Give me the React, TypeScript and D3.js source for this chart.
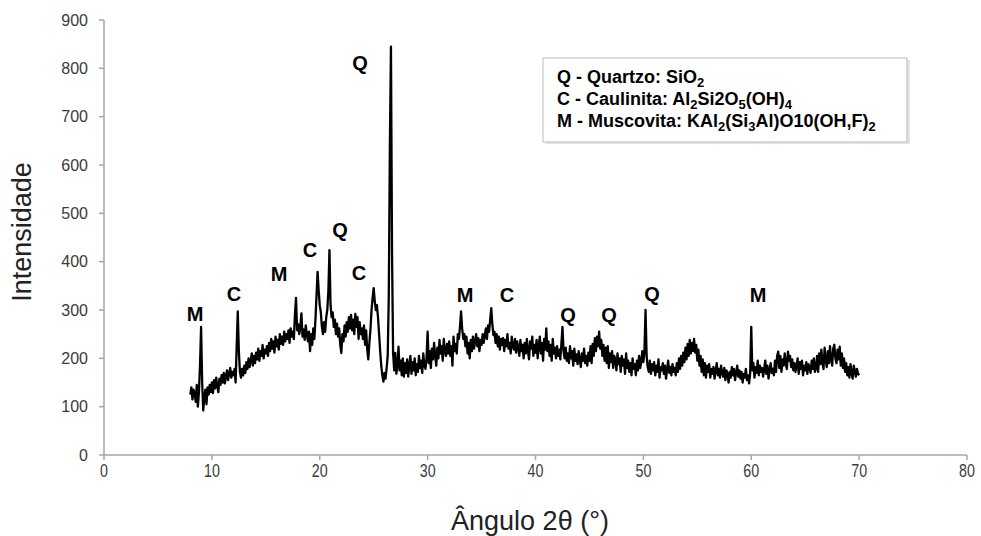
import React, { useEffect } from 'react';
import * as d3 from 'd3';

// diffractogram sampled every 0.1 degree from 8.0 to 70.0
const angleStart = 8;
const angleStep = 0.1;
const intensity = [
  125, 140, 115, 135, 128, 110, 145, 100, 130, 185, // 8
  265, 150, 92, 120, 135, 105, 140, 125, 145, 130, // 9
  150, 128, 155, 138, 160, 142, 130, 158, 145, 165, // 10
  150, 170, 148, 162, 175, 155, 168, 180, 160, 172, // 11
  165, 178, 150, 225, 297, 215, 172, 160, 178, 165, // 12
  185, 170, 192, 178, 200, 182, 195, 210, 185, 205, // 13
  190, 212, 198, 220, 195, 215, 205, 228, 200, 218, // 14
  210, 225, 205, 232, 215, 240, 220, 235, 212, 245, // 15
  225, 238, 218, 250, 230, 245, 228, 255, 235, 250, // 16
  240, 258, 232, 262, 245, 255, 240, 290, 325, 258, // 17
  270, 250, 265, 293, 245, 260, 238, 268, 250, 235, // 18
  255, 215, 250, 228, 262, 240, 280, 330, 379, 340, // 19
  310, 295, 265, 250, 275, 255, 285, 300, 340, 424, // 20
  310, 285, 295, 265, 280, 250, 272, 245, 262, 228, // 21
  211, 250, 235, 268, 245, 275, 255, 285, 262, 290, // 22
  258, 280, 250, 292, 265, 285, 240, 275, 250, 262, // 23
  240, 268, 228, 258, 218, 198, 232, 260, 300, 325, // 24
  345, 318, 300, 310, 285, 250, 215, 185, 165, 152, // 25
  170, 158, 180, 205, 330, 640, 845, 420, 210, 175, // 26
  211, 168, 185, 224, 175, 195, 165, 200, 162, 190, // 27
  170, 198, 162, 185, 205, 168, 192, 175, 200, 165, // 28
  188, 172, 205, 180, 195, 170, 210, 185, 178, 200, // 29
  255, 190, 215, 180, 220, 198, 232, 205, 185, 222, // 30
  200, 238, 210, 225, 195, 240, 215, 205, 230, 210, // 31
  235, 205, 225, 185, 245, 215, 230, 210, 250, 240, // 32
  265, 297, 262, 240, 250, 225, 245, 210, 232, 200, // 33
  238, 215, 245, 220, 235, 250, 225, 242, 215, 238, // 34
  228, 250, 232, 248, 262, 240, 268, 255, 280, 304, // 35
  270, 248, 255, 232, 250, 225, 245, 218, 240, 228, // 36
  242, 215, 238, 225, 250, 220, 232, 210, 245, 225, // 37
  218, 240, 212, 235, 222, 205, 238, 215, 228, 200, // 38
  232, 210, 240, 215, 198, 235, 220, 245, 205, 228, // 39
  212, 238, 200, 225, 245, 210, 232, 195, 240, 218, // 40
  262, 215, 235, 205, 228, 195, 240, 210, 222, 200, // 41
  225, 205, 218, 198, 230, 265, 215, 200, 222, 195, // 42
  210, 190, 225, 200, 215, 185, 220, 195, 208, 188, // 43
  215, 198, 182, 210, 195, 220, 190, 205, 185, 212, // 44
  195, 225, 190, 230, 205, 242, 215, 245, 225, 255, // 45
  220, 238, 205, 228, 195, 222, 190, 225, 180, 210, // 46
  192, 215, 180, 205, 198, 175, 210, 188, 200, 172, // 47
  205, 185, 198, 168, 210, 180, 195, 172, 190, 165, // 48
  200, 178, 188, 165, 195, 175, 205, 180, 192, 215, // 49
  192, 215, 300, 205, 182, 172, 195, 168, 188, 175, // 50
  192, 165, 185, 172, 198, 160, 182, 175, 190, 168, // 51
  185, 158, 178, 195, 170, 182, 165, 188, 172, 180, // 52
  165, 190, 172, 200, 178, 205, 185, 212, 192, 222, // 53
  198, 230, 205, 238, 210, 232, 215, 240, 212, 228, // 54
  195, 218, 185, 205, 172, 198, 165, 190, 160, 185, // 55
  172, 188, 160, 178, 168, 182, 158, 175, 190, 165, // 56
  178, 160, 185, 170, 162, 180, 155, 175, 168, 150, // 57
  172, 160, 182, 165, 178, 155, 170, 185, 162, 175, // 58
  158, 172, 150, 168, 160, 178, 155, 165, 148, 170, // 59
  265, 175, 190, 160, 182, 170, 195, 165, 185, 172, // 60
  180, 162, 178, 195, 168, 185, 158, 175, 190, 170, // 61
  178, 165, 195, 172, 205, 214, 180, 205, 172, 198, // 62
  185, 210, 190, 178, 214, 195, 205, 182, 198, 175, // 63
  190, 172, 185, 200, 168, 192, 178, 195, 165, 185, // 64
  175, 192, 168, 188, 180, 170, 195, 178, 200, 172, // 65
  180, 205, 172, 210, 188, 218, 190, 178, 222, 198, // 66
  182, 215, 190, 225, 198, 185, 220, 228, 200, 190, // 67
  218, 198, 224, 185, 210, 180, 200, 172, 190, 165, // 68
  182, 160, 188, 170, 158, 185, 175, 162, 178, 168, // 69
  165,
];

const xTicks = [0, 10, 20, 30, 40, 50, 60, 70, 80];
const yTicks = [0, 100, 200, 300, 400, 500, 600, 700, 800, 900];

// phase letters above the peaks (angle = label centre, level = baseline)
const peakLabels = [
  { text: 'M', angle: 8.44, level: 277 },
  { text: 'C', angle: 12.05, level: 319 },
  { text: 'M', angle: 16.22, level: 360 },
  { text: 'C', angle: 19.1, level: 410 },
  { text: 'Q', angle: 21.88, level: 451 },
  { text: 'C', angle: 23.64, level: 362 },
  { text: 'Q', angle: 23.73, level: 797 },
  { text: 'M', angle: 33.47, level: 317 },
  { text: 'C', angle: 37.36, level: 317 },
  { text: 'Q', angle: 43.01, level: 275 },
  { text: 'Q', angle: 46.81, level: 275 },
  { text: 'Q', angle: 50.8, level: 319 },
  { text: 'M', angle: 60.63, level: 317 },
];

// legend rows: [text, isSubscript]
const legendRows: [string, boolean][][] = [
  [['Q - Quartzo: SiO', false], ['2', true]],
  [['C - Caulinita: Al', false], ['2', true], ['Si2O', false], ['5', true], ['(OH)', false], ['4', true]],
  [['M - Muscovita: KAl', false], ['2', true], ['(Si', false], ['3', true], ['Al)O10(OH,F)', false], ['2', true]],
];

const W = 981;
const H = 536;
const axisColor = '#a6a6a6';
const textColor = '#3a3a3a';

export default function App() {
  useEffect(() => {
    document.body.style.margin = '0';
  }, []);

  const x = d3.scaleLinear().domain([0, 80]).range([104, 967]);
  const y = d3.scaleLinear().domain([0, 900]).range([455, 20]);

  const points: [number, number][] = intensity.map((v, i) => [angleStart + i * angleStep, v]);
  const line = d3.line<[number, number]>()
    .x(d => x(d[0]))
    .y(d => y(d[1]));

  return (
    <svg width={W} height={H} style={{ display: 'block', background: '#fff' }}>
      {/* axes */}
      <line x1={x(0)} x2={x(0)} y1={y(0)} y2={y(900)} stroke={axisColor} strokeWidth={1.5} />
      <line x1={x(0)} x2={x(80)} y1={y(0)} y2={y(0)} stroke={axisColor} strokeWidth={1.5} />
      {yTicks.map(t => (
        <g key={'y' + t}>
          <line x1={x(0) - 5} x2={x(0)} y1={y(t)} y2={y(t)} stroke={axisColor} strokeWidth={1.5} />
          <text x={88} y={y(t)} dy="0.35em" textAnchor="end"
            fontFamily="Liberation Sans, Arial, sans-serif" fontSize={16} fill={textColor}>{t}</text>
        </g>
      ))}
      {xTicks.map(t => (
        <g key={'x' + t}>
          <line x1={x(t)} x2={x(t)} y1={y(0)} y2={y(0) + 5} stroke={axisColor} strokeWidth={1.5} />
          <text transform={`translate(${x(t)},477) scale(0.75,1)`} textAnchor="middle"
            fontFamily="Liberation Sans, Arial, sans-serif" fontSize={19} fill={textColor}>{t}</text>
        </g>
      ))}

      {/* axis titles */}
      <text transform="translate(31,232) rotate(-90)" textAnchor="middle"
        fontFamily="Liberation Sans, Arial, sans-serif" fontSize={27} fill="#222">Intensidade</text>
      <text x={530} y={530} textAnchor="middle"
        fontFamily="Liberation Sans, Arial, sans-serif" fontSize={27} fill="#222">Ângulo 2θ (°)</text>

      {/* diffractogram */}
      <path d={line(points) || ''} fill="none" stroke="#000" strokeWidth={2.3} strokeLinejoin="round" />

      {/* peak letters */}
      {peakLabels.map((p, i) => (
        <text key={'p' + i} x={x(p.angle)} y={y(p.level)} textAnchor="middle"
          fontFamily="Liberation Sans, Arial, sans-serif" fontWeight="bold" fontSize={20} fill="#000">{p.text}</text>
      ))}

      {/* legend */}
      <rect x={545} y={60} width={365} height={84} fill="#e4e4e4" />
      <rect x={543} y={58} width={364} height={84} fill="#fff" stroke="#bdbdbd" strokeWidth={1} />
      {legendRows.map((row, r) => (
        <text key={'l' + r} x={557} y={83 + r * 22}
          fontFamily="Liberation Sans, Arial, sans-serif" fontWeight="bold" fontSize={18} fill="#000">
          {row.map(([s, sub], k) => (
            <tspan key={k} fontSize={sub ? 13 : 18} dy={sub ? 4 : (k > 0 && row[k - 1][1] ? -4 : 0)}>{s}</tspan>
          ))}
        </text>
      ))}
    </svg>
  );
}
